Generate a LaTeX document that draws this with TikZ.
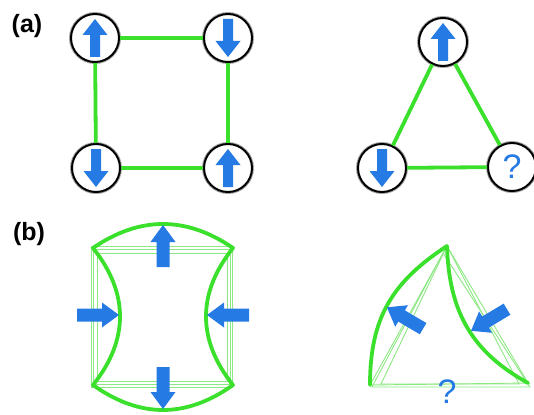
\documentclass[tikz,border=0pt]{standalone}
\usepackage{fontspec}
\setmainfont{Liberation Sans}
\definecolor{lgreen}{RGB}{58,224,44}
\definecolor{pgreen}{RGB}{140,232,130}
\definecolor{ablue}{RGB}{38,122,228}
\begin{document}
\begin{tikzpicture}[x=1pt,y=-1pt,
  spin/.style={circle,draw=black,line width=2pt,fill=white,minimum size=48pt,inner sep=0pt,
    preaction={draw=black!35,line width=4pt}},
  bond/.style={draw=lgreen,line width=3.8pt},
  thickcurve/.style={draw=lgreen,line width=3.8pt,line join=round,line cap=round},
  thinline/.style={draw=pgreen,line width=0.9pt},
  lbl/.style={font=\bfseries\fontsize{25}{25}\selectfont},
  qmark/.style={text=ablue,font=\fontsize{34}{34}\selectfont},
  barrow/.pic={\fill[ablue] (-19,-5) -- (3,-5) -- (3,-12.5) -- (19,0) -- (3,12.5) -- (3,5) -- (-19,5) -- cycle;},
  barrowb/.pic={\fill[ablue] (-21,-6.5) -- (4,-6.5) -- (4,-12.5) -- (21,0) -- (4,12.5) -- (4,6.5) -- (-21,6.5) -- cycle;},
]
\useasboundingbox (0,0) rectangle (534,414);

% labels
\node[lbl] (la) at (27,26) {(a)};
\node[lbl] (lb) at (29,234) {(b)};

% (a) square plaquette
\node[spin] (s1) at (95,38) {};
\node[spin] (s2) at (228,38) {};
\node[spin] (s3) at (96,168) {};
\node[spin] (s4) at (228,168) {};
\draw[bond] (s1) -- (s2);
\draw[bond] (s2) -- (s4);
\draw[bond] (s4) -- (s3);
\draw[bond] (s3) -- (s1);
\pic[rotate=90] at (s1) {barrow};
\pic[rotate=-90] at (s2) {barrow};
\pic[rotate=-90] at (s3) {barrow};
\pic[rotate=90] at (s4) {barrow};

% (a) triangle plaquette
\node[spin] (t1) at (443,42) {};
\node[spin] (t2) at (382,168) {};
\node[spin,qmark] (t3) at (512,167) {?};
\draw[bond] (t1) -- (t2);
\draw[bond] (t2) -- (t3);
\draw[bond] (t3) -- (t1);
\pic[rotate=90] at (t1) {barrow};
\pic[rotate=-90] at (t2) {barrow};

% (b) distorted square
\draw[thinline] (91,246) rectangle (232,387);
\draw[thinline] (93,249) rectangle (230,384);
\draw[thinline] (97,253) rectangle (227,381);
\draw[thickcurve] (93,248) .. controls (139.7,216) and (186.3,216) .. (233,248)
  .. controls (197,293) and (197,340) .. (233,385)
  .. controls (186.3,418.3) and (139.7,418.3) .. (93,385)
  .. controls (129,340) and (129,293) .. (93,248) -- cycle;
\coordinate (ua) at (163,246);
\coordinate (da) at (163,388);
\coordinate (ra) at (98,315);
\coordinate (lfa) at (228,315);
\pic[rotate=90] at (ua) {barrowb};
\pic[rotate=-90] at (da) {barrowb};
\pic at (ra) {barrowb};
\pic[rotate=180] at (lfa) {barrowb};

% (b) distorted triangle
\draw[thinline] (447,246) -- (370,385) -- (528,383) -- cycle;
\draw[thinline] (447,246) -- (381,384) -- (519,384) -- cycle;
\draw[thinline] (443,253) -- (372,387) -- (530,387) -- cycle;
\draw[thickcurve] (370,385) .. controls (370,318) and (392,282) .. (447,246);
\draw[thickcurve] (447,246) .. controls (449,312) and (472,352) .. (528,383);
\coordinate (la1) at (405,318);
\coordinate (ra1) at (489,320);
\pic[rotate=149.5] at (la1) {barrowb};
\pic[rotate=211] at (ra1) {barrowb};
\node[qmark] (q) at (447,392) {?};
\end{tikzpicture}
\end{document}
